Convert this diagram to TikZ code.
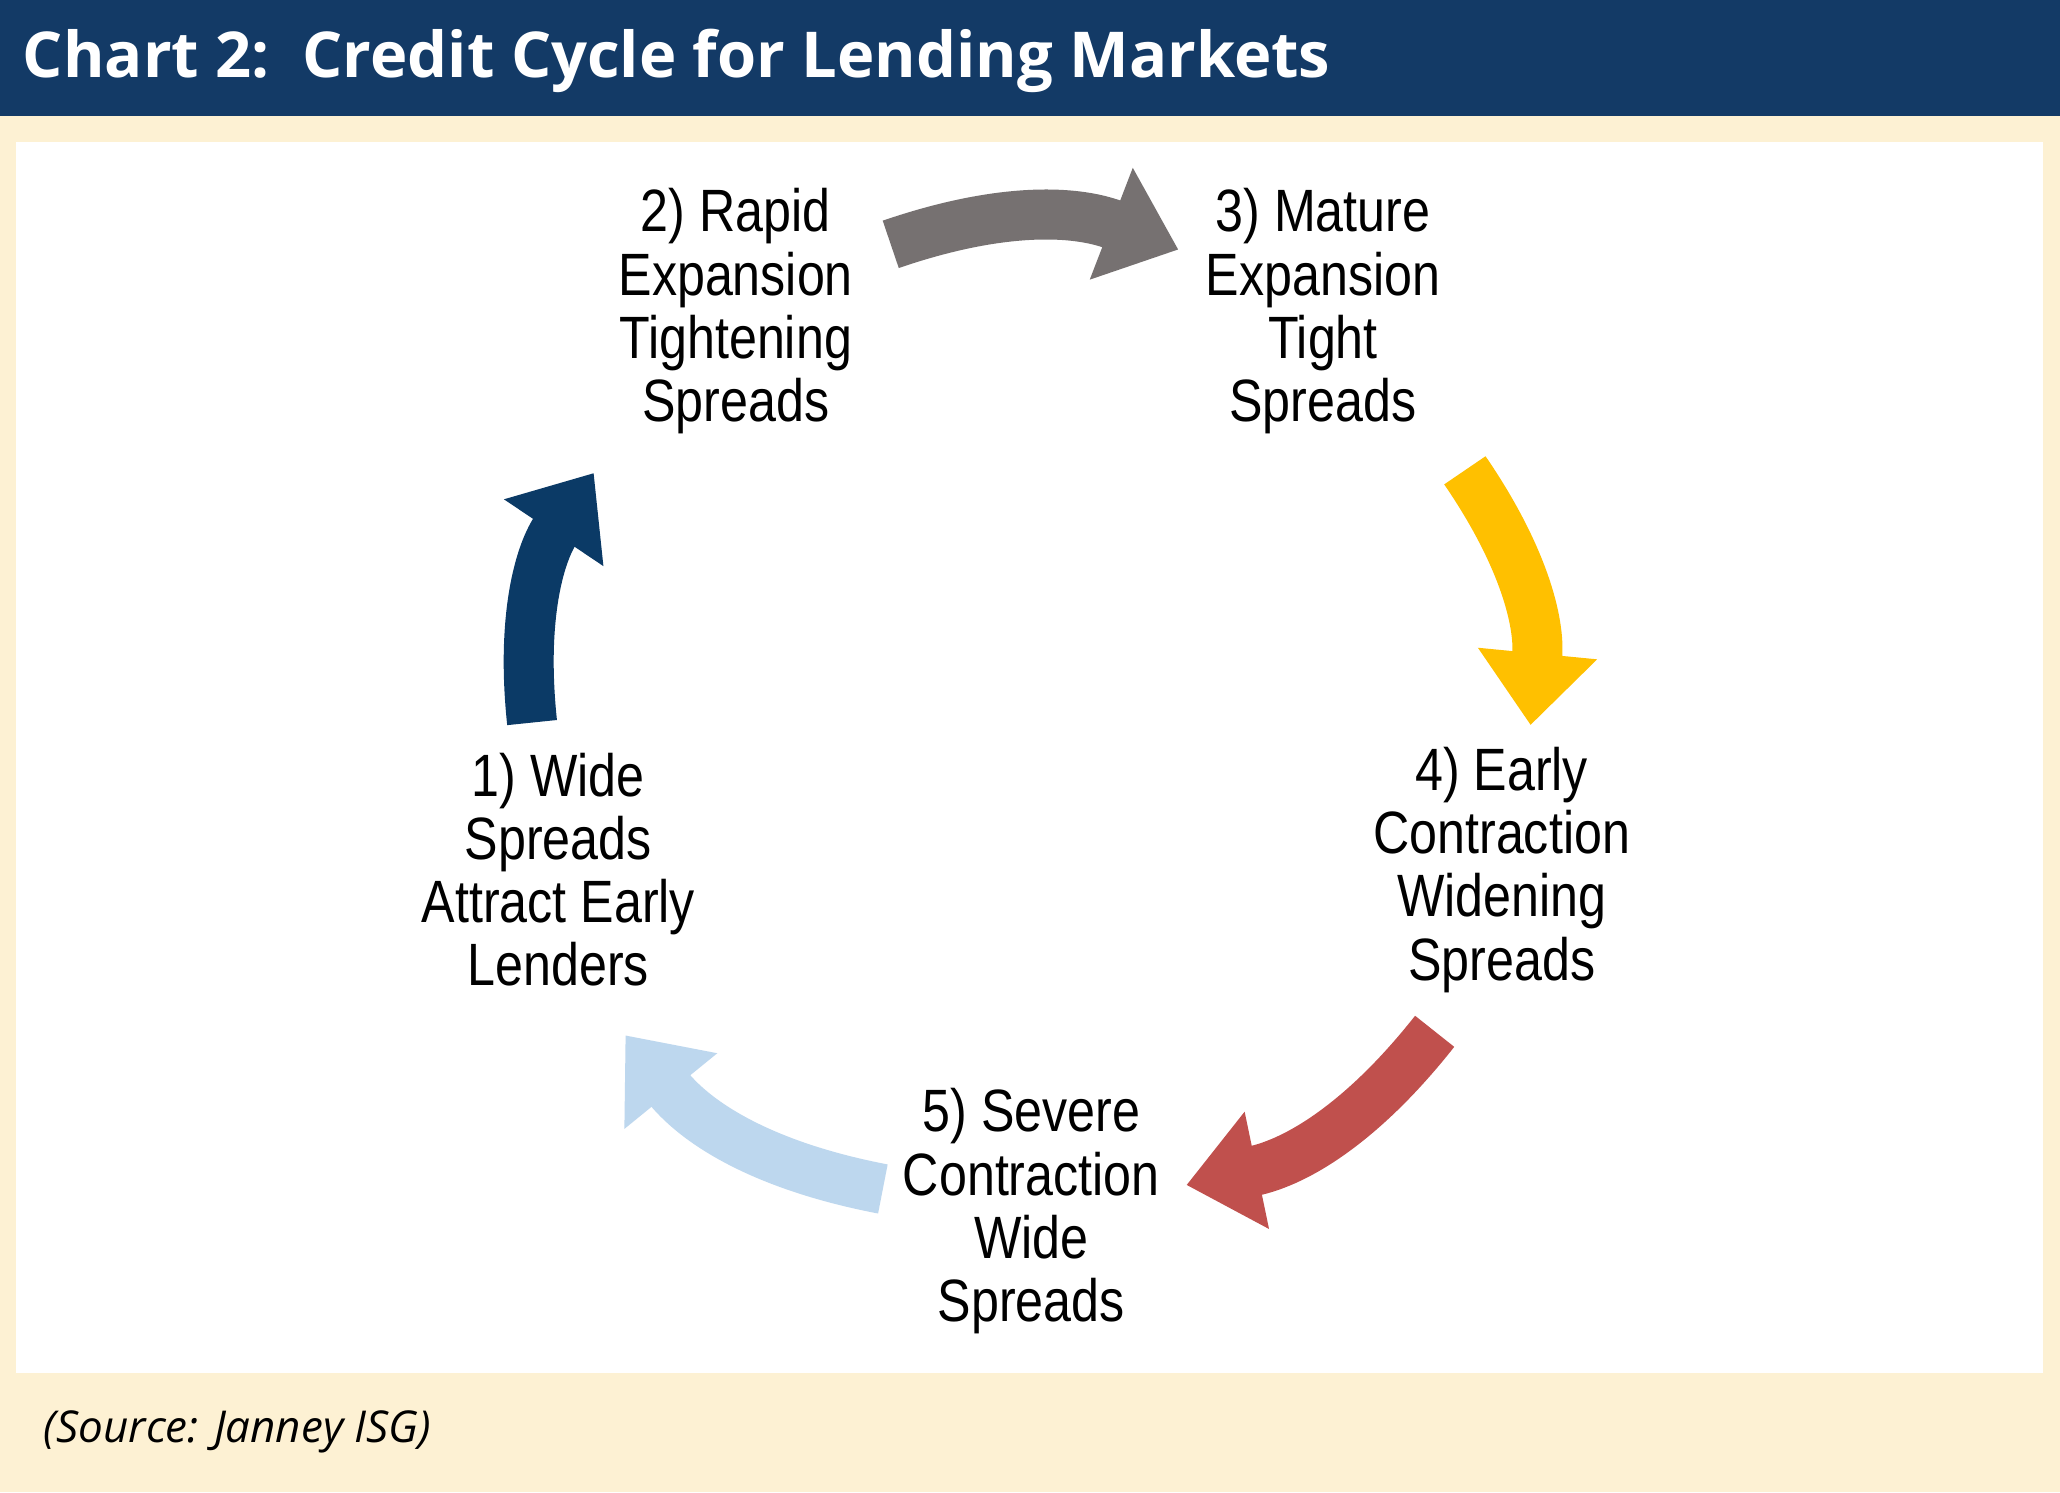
\documentclass[tikz,border=0pt]{standalone}
\usepackage{fontspec}
\setmainfont{Liberation Sans}
\newfontfamily\titlefont{Open Sans}
\usetikzlibrary{arrows.meta}
\definecolor{barblue}{HTML}{133A66}
\definecolor{cream}{HTML}{FDF1D3}
\definecolor{darkblue}{HTML}{0B3A66}
\definecolor{stonegrey}{HTML}{767171}
\definecolor{gold}{HTML}{FFC000}
\definecolor{brick}{HTML}{C0504D}
\definecolor{paleblue}{HTML}{BDD7EE}
\tikzset{
  phase/.style={align=center,font=\fontsize{17}{18}\selectfont,xscale=0.84,inner sep=0pt},
  cyclearrow/.style={line width=0.5cm,-{Triangle[width=1.15cm,length=0.72cm]},bend left=20}
}
\begin{document}
\begin{tikzpicture}[x=0.013138cm,y=-0.013138cm]
  \useasboundingbox (0,0) rectangle (1568,1136);
  \fill[cream] (0,0) rectangle (1568,1136);
  \fill[barblue] (0,0) rectangle (1568,88);
  \fill[white] (12,108) rectangle (1555,1045);

  \node[anchor=west,text=white,font=\titlefont\bfseries\fontsize{18}{22}\selectfont] (title) at (8,46) {Chart 2:\ \ Credit Cycle for Lending Markets};
  \node[anchor=west,font=\titlefont\itshape\fontsize{12.5}{15}\selectfont] (source) at (24,1090) {(Source: Janney ISG)};

  % phases
  \node[phase] (p1) at (425,662) {1) Wide\\Spreads\\Attract Early\\Lenders};
  \node[phase] (p2) at (560,237) {2) Rapid\\Expansion\\Tightening\\Spreads};
  \node[phase] (p3) at (1007,237) {3) Mature\\Expansion\\Tight\\Spreads};
  \node[phase] (p4) at (1143,662) {4) Early\\Contraction\\Widening\\Spreads};
  \node[phase] (p5) at (785,922) {5) Severe\\Contraction\\Wide\\Spreads};

  % arrow ends
  \coordinate (a1s) at (405,550);
  \coordinate (a1e) at (452,360);
  \coordinate (a2s) at (678,186);
  \coordinate (a2e) at (897,190);
  \coordinate (a3s) at (1115,358);
  \coordinate (a3e) at (1165,552);
  \coordinate (a4s) at (1092,785);
  \coordinate (a4e) at (903,902);
  \coordinate (a5s) at (672,905);
  \coordinate (a5e) at (476,788);

  \draw[cyclearrow,darkblue] (a1s) to (a1e);
  \draw[cyclearrow,stonegrey] (a2s) to (a2e);
  \draw[cyclearrow,gold] (a3s) to (a3e);
  \draw[cyclearrow,brick] (a4s) to (a4e);
  \draw[cyclearrow,paleblue] (a5s) to (a5e);
\end{tikzpicture}
\end{document}
